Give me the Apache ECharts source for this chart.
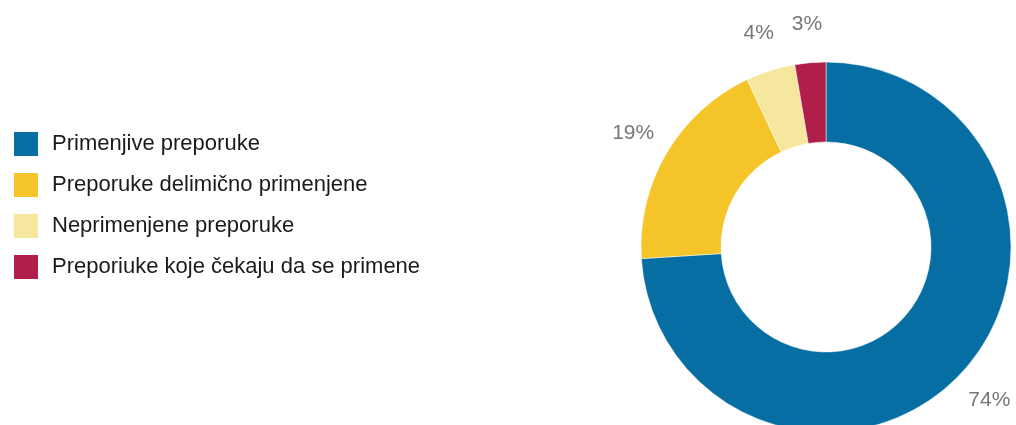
<!DOCTYPE html>
<html>
<head>
<meta charset="utf-8">
<script src="https://cdn.jsdelivr.net/npm/echarts@6/dist/echarts.min.js"></script>
<style>
  html, body { margin: 0; padding: 0; background: #fff; }
  #chart { width: 1016px; height: 425px; }
</style>
</head>
<body>
<div id="chart"></div>
<script>
const categories = [
  'Primenjive preporuke',
  'Preporuke delimično primenjene',
  'Neprimenjene preporuke',
  'Preporiuke koje čekaju da se primene'
];
const values = [74, 19, 4.3, 2.7];
const colors = ['#066ea3', '#f4c428', '#f6e79f', '#b01e4a'];

const font = '"Liberation Sans", Arial, sans-serif';

const chart = echarts.init(document.getElementById('chart'), null, { renderer: 'canvas' });

const pieData = categories.map((name, i) => ({
  name: name,
  value: values[i],
  itemStyle: { color: colors[i] }
}));

// transparent ring used only to place the percentage labels around the donut
const labelData = categories.map((name, i) => ({
  name: name,
  value: values[i],
  itemStyle: { color: 'rgba(0,0,0,0)' }
}));

const option = {
  backgroundColor: '#fff',
  animation: false,
  legend: {
    orient: 'vertical',
    left: 12,
    top: 130,
    padding: 0,
    itemWidth: 26,
    itemHeight: 26,
    itemGap: 13,
    icon: 'rect',
    data: categories.map((name, i) => ({ name: name, itemStyle: { color: colors[i] } })),
    textStyle: {
      fontFamily: font,
      fontSize: 22,
      lineHeight: 26,
      color: '#1a1a1a',
      padding: [0, 0, 0, 8]
    }
  },
  series: [
    {
      type: 'pie',
      center: [826, 247],
      radius: [105, 185],
      startAngle: 90,
      clockwise: true,
      silent: true,
      label: { show: false },
      labelLine: { show: false },
      itemStyle: { borderColor: '#fff', borderWidth: 0.5 },
      data: pieData
    },
    {
      type: 'pie',
      center: [826, 247],
      radius: [202, 240],
      startAngle: 90,
      clockwise: true,
      silent: true,
      percentPrecision: 0,
      label: {
        show: true,
        position: 'inside',
        formatter: '{d}%',
        fontFamily: font,
        fontSize: 21,
        color: '#777777'
      },
      labelLine: { show: false },
      data: labelData
    }
  ]
};

chart.setOption(option);
window.addEventListener('resize', () => chart.resize());
</script>
</body>
</html>
